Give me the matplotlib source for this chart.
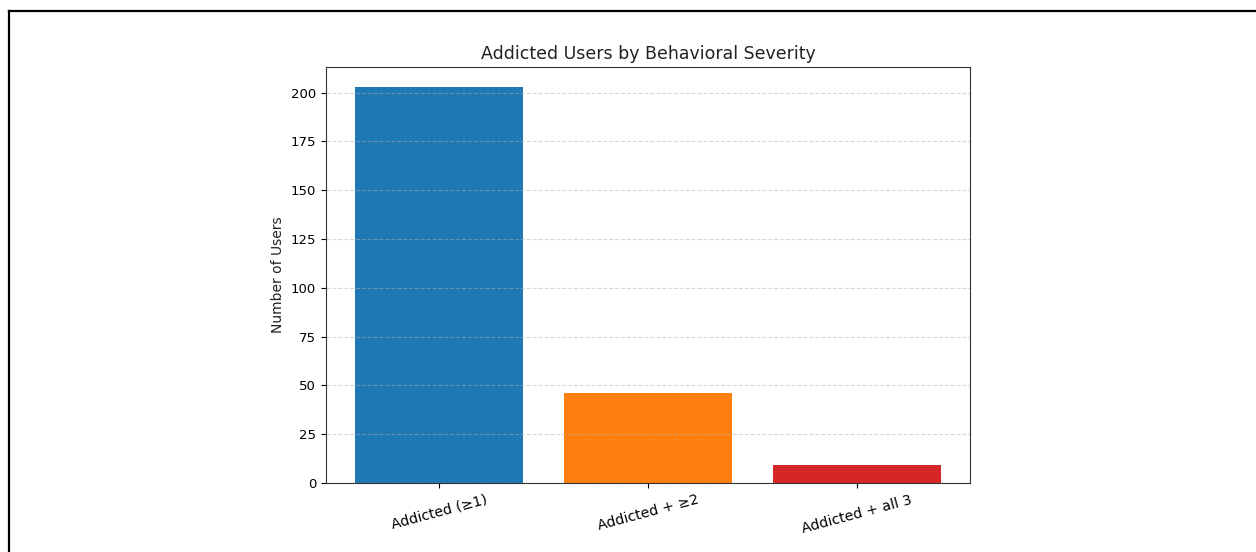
import matplotlib.pyplot as plt
from matplotlib.lines import Line2D

categories = ["Addicted (≥1)", "Addicted + ≥2", "Addicted + all 3"]
counts = [203, 46, 9]
colors = ["tab:blue", "tab:orange", "tab:red"]

W, H = 1256, 552
fig = plt.figure(figsize=(W / 100, H / 100), dpi=100)
ax = fig.add_axes([326 / W, 1 - 483 / H, (970 - 326) / W, (483 - 67) / H])

ax.bar(categories, counts, color=colors)
ax.set_title("Addicted Users by Behavioral Severity", fontsize=12.5, color="#222222")
ax.set_ylabel("Number of Users", fontsize=10, color="#222222")
ax.tick_params(axis="y", labelsize=9.5)
ax.tick_params(axis="x", labelsize=10.2)
plt.setp(ax.get_xticklabels(), rotation=15)
ax.yaxis.grid(True, linestyle="--", alpha=0.5)
for s in ax.spines.values():
    s.set_color("#333333")

# screenshot frame (top and left edges)
fig.add_artist(Line2D([9 / W, 1], [1 - 11 / H, 1 - 11 / H], color="black", lw=1.6))
fig.add_artist(Line2D([9 / W, 9 / W], [0, 1 - 11 / H], color="black", lw=1.6))

fig.savefig("out.png", dpi=100)
